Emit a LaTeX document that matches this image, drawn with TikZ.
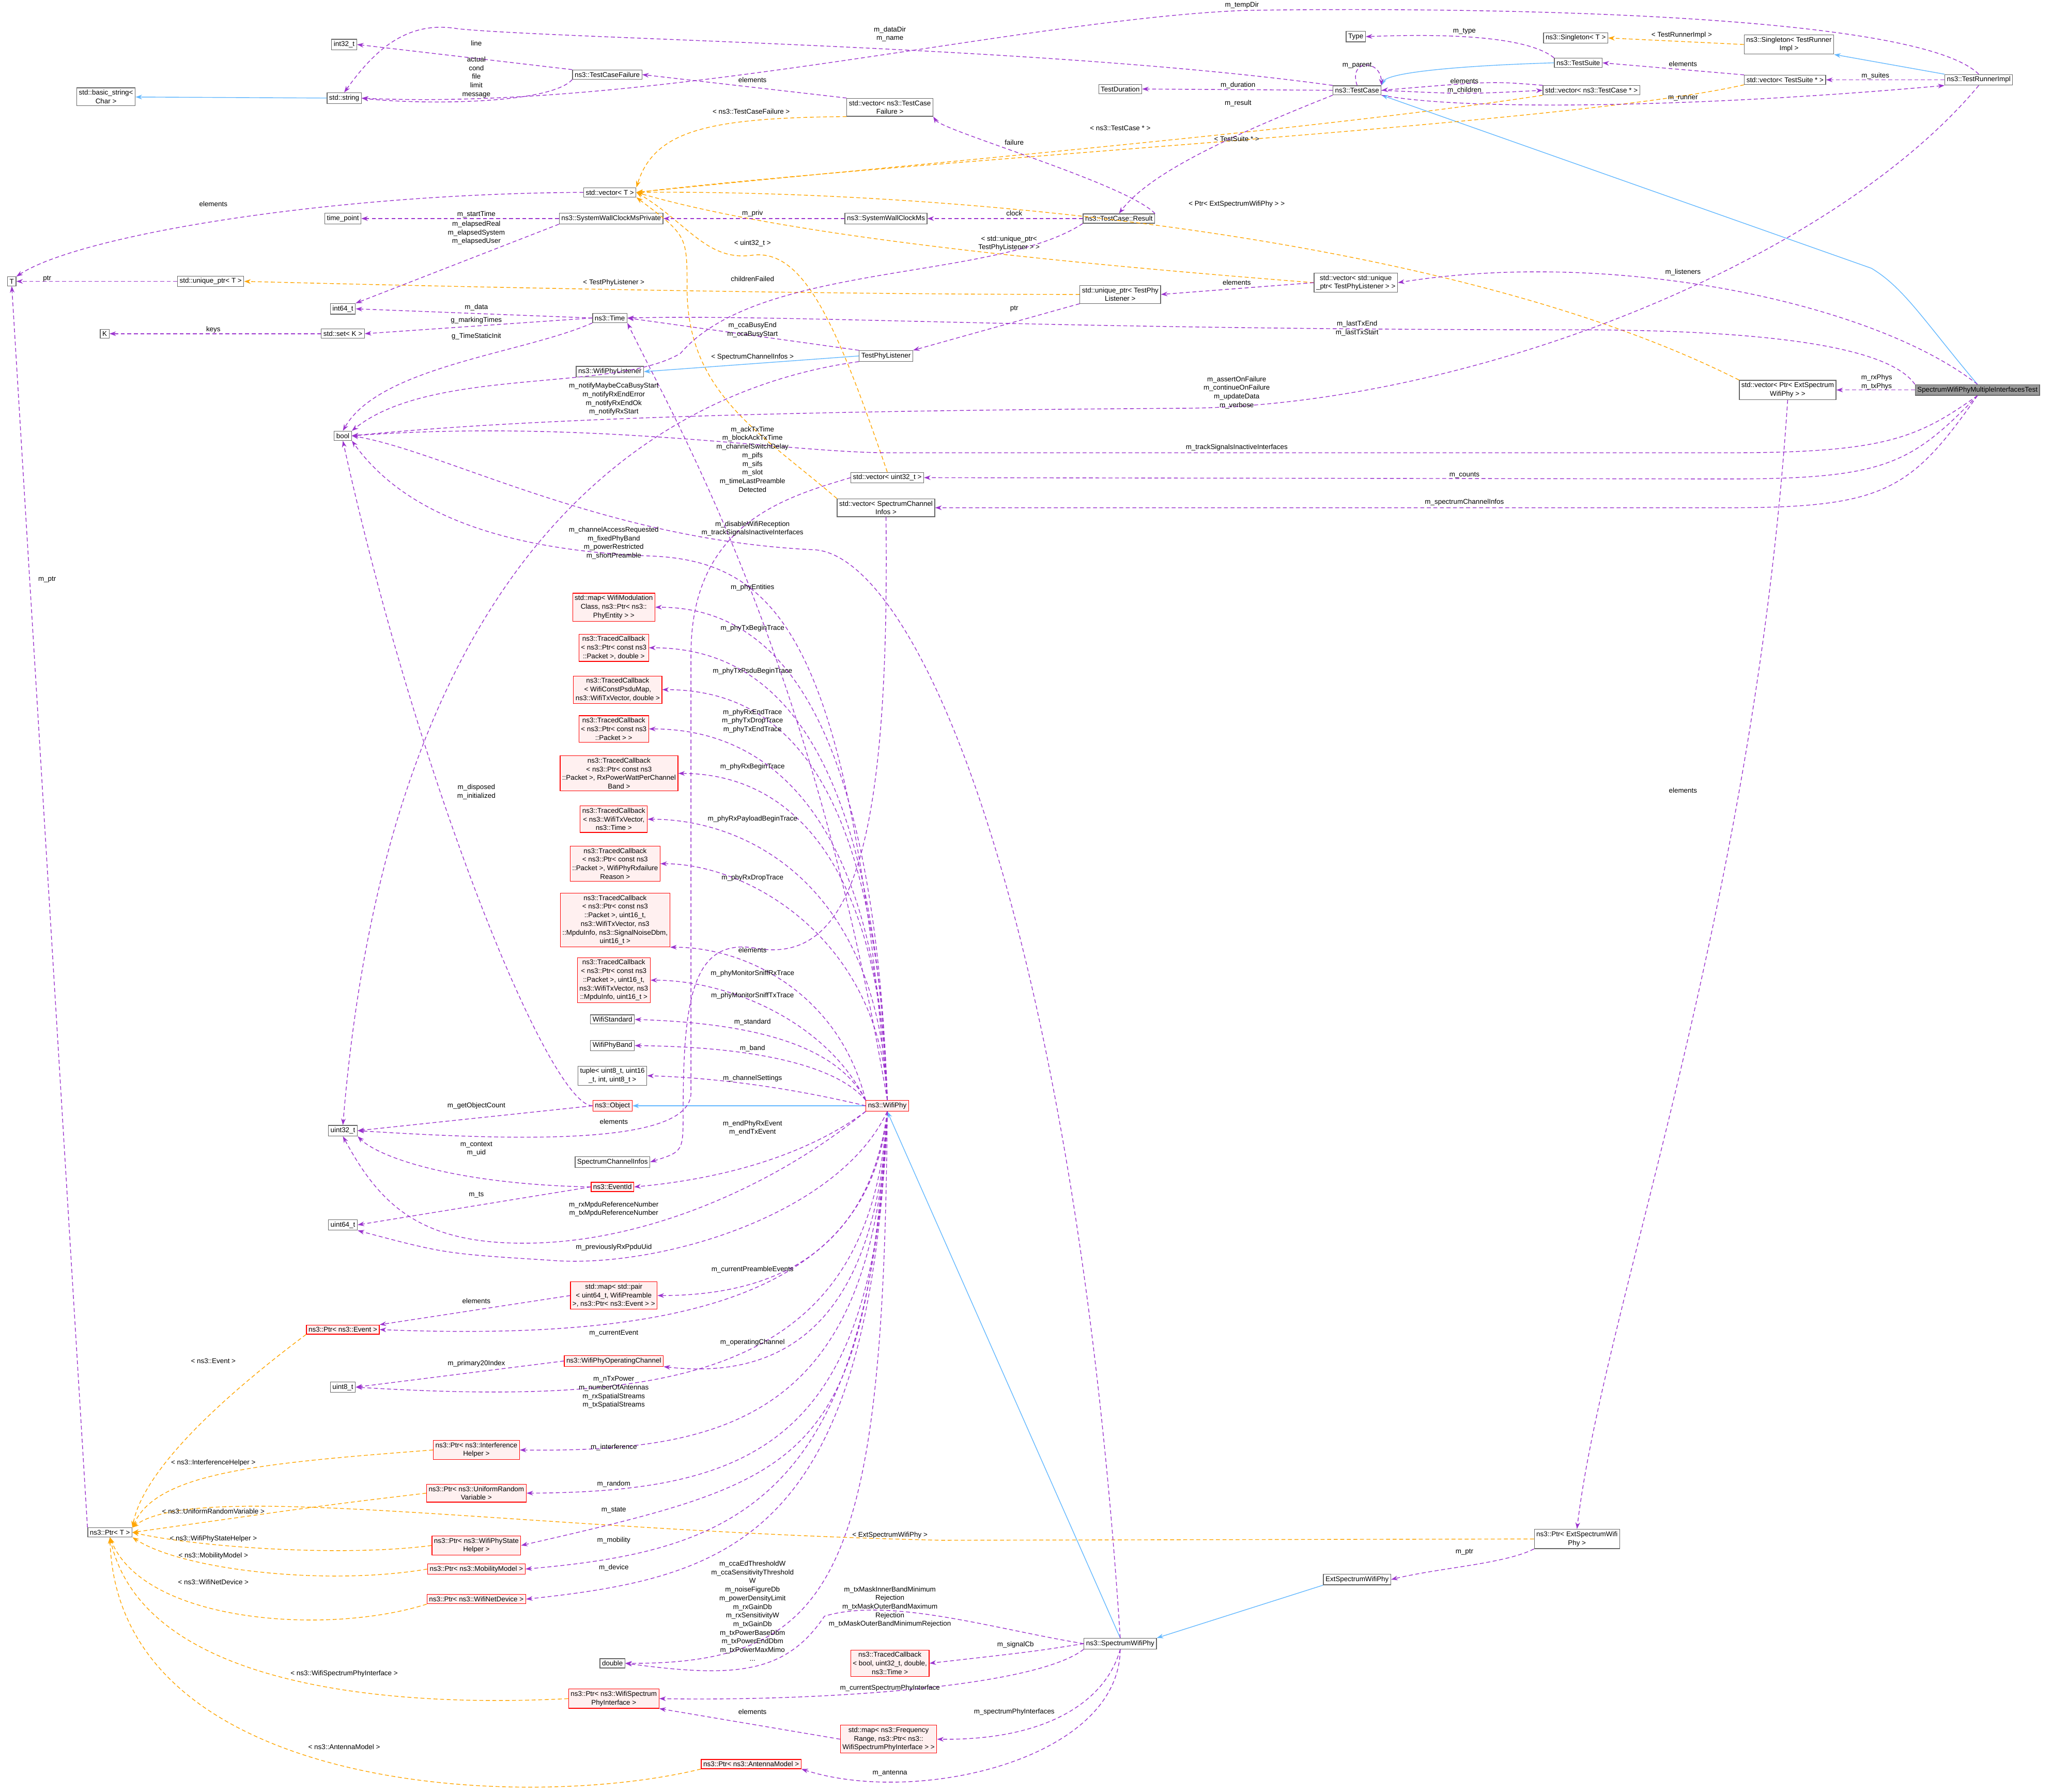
\documentclass[tikz,border=0pt]{standalone}
\usepackage{fontspec}
\setmainfont{Liberation Sans}
\usetikzlibrary{arrows.meta}
\definecolor{cp}{HTML}{9A32CD}
\definecolor{co}{HTML}{FFA500}
\definecolor{cb}{HTML}{63B8FF}
\definecolor{rf}{HTML}{FFF0F0}
\tikzset{
 bx/.style={draw=black!60,fill=white,line width=0.5pt,inner sep=1.6pt,align=center,font=\fontsize{5.3}{6.6}\selectfont},
 rbx/.style={bx,draw=red,fill=rf},
 mbx/.style={bx,fill=black!40},
 lbl/.style={inner sep=0pt,align=center,font=\fontsize{5.3}{6.6}\selectfont},
 p/.style={draw=cp,dashed,dash pattern=on 3pt off 2pt,line width=0.55pt,-{Stealth[length=5pt,width=3.5pt]}},
 o/.style={draw=co,dashed,dash pattern=on 3pt off 2pt,line width=0.55pt,-{Stealth[length=5pt,width=3.5pt]}},
 b/.style={draw=cb,line width=0.55pt,-{Stealth[length=5pt,width=3.5pt]}},
}
\begin{document}
\begin{tikzpicture}[x=1pt,y=-1pt]
\useasboundingbox (0,0) rectangle (1568,1369);
% nodes
\node[bx] (n-int32) at (263,34) {int32\_t};
\node[bx] (n-bstr) at (81,74) {std::basic\_string<\\Char >};
\node[bx] (n-str) at (263,75) {std::string};
\node[bx] (n-tcf) at (464,57) {ns3::TestCaseFailure};
\node[bx] (n-vtcf) at (680,82) {std::vector< ns3::TestCase\\Failure >};
\node[bx] (n-type) at (1036,28) {Type};
\node[bx] (n-sgT) at (1204,29) {ns3::Singleton< T >};
\node[bx] (n-sgR) at (1367,34) {ns3::Singleton< TestRunner\\Impl >};
\node[bx] (n-ts) at (1206,48) {ns3::TestSuite};
\node[bx] (n-td) at (856,68) {TestDuration};
\node[bx] (n-tc) at (1037,69) {ns3::TestCase};
\node[bx] (n-vtc) at (1216,69) {std::vector< ns3::TestCase * >};
\node[bx] (n-vts) at (1364,61) {std::vector< TestSuite * >};
\node[bx] (n-tri) at (1512,61) {ns3::TestRunnerImpl};
\node[bx] (n-vT) at (466,147) {std::vector< T >};
\node[bx] (n-tp) at (262,167) {time\_point};
\node[bx] (n-swp) at (467,167) {ns3::SystemWallClockMsPrivate};
\node[bx] (n-swc) at (677,167) {ns3::SystemWallClockMs};
\node[bx] (n-res) at (855,167) {ns3::TestCase::Result};
\node[bx] (n-T) at (9,215) {T};
\node[bx] (n-upT) at (161,215) {std::unique\_ptr< T >};
\node[bx] (n-vup) at (1036,216) {std::vector< std::unique\\\_ptr< TestPhyListener > >};
\node[bx] (n-uptpl) at (856,225) {std::unique\_ptr< TestPhy\\Listener >};
\node[bx] (n-i64) at (262,236) {int64\_t};
\node[bx] (n-time) at (466,243) {ns3::Time};
\node[bx] (n-K) at (80,255) {K};
\node[bx] (n-set) at (262,255) {std::set< K >};
\node[bx] (n-tpl) at (677,272) {TestPhyListener};
\node[bx] (n-wpl) at (466,284) {ns3::WifiPhyListener};
\node[bx] (n-bool) at (262,333) {bool};
\node[bx] (n-vpe) at (1366,298) {std::vector< Ptr< ExtSpectrum\\WifiPhy > >};
\node[mbx] (n-main) at (1511,298) {SpectrumWifiPhyMultipleInterfacesTest};
\node[bx] (n-vu32) at (678,365) {std::vector< uint32\_t >};
\node[bx] (n-vsci) at (677,388) {std::vector< SpectrumChannel\\Infos >};
\node[rbx] (n-mwm) at (469,464) {std::map< WifiModulation\\Class, ns3::Ptr< ns3::\\PhyEntity > >};
\node[rbx] (n-tc1) at (469,495) {ns3::TracedCallback\\< ns3::Ptr< const ns3\\::Packet >, double >};
\node[rbx] (n-tc2) at (472,527) {ns3::TracedCallback\\< WifiConstPsduMap,\\ ns3::WifiTxVector, double >};
\node[rbx] (n-tc3) at (469,557) {ns3::TracedCallback\\< ns3::Ptr< const ns3\\::Packet > >};
\node[rbx] (n-tc4) at (473,591) {ns3::TracedCallback\\< ns3::Ptr< const ns3\\::Packet >, RxPowerWattPerChannel\\Band >};
\node[rbx] (n-tc5) at (469,626) {ns3::TracedCallback\\< ns3::WifiTxVector,\\ ns3::Time >};
\node[rbx] (n-tc6) at (470,660) {ns3::TracedCallback\\< ns3::Ptr< const ns3\\::Packet >, WifiPhyRxfailure\\Reason >};
\node[rbx] (n-tc7) at (470,703) {ns3::TracedCallback\\< ns3::Ptr< const ns3\\::Packet >, uint16\_t,\\ ns3::WifiTxVector, ns3\\::MpduInfo, ns3::SignalNoiseDbm,\\ uint16\_t >};
\node[rbx] (n-tc8) at (469,749) {ns3::TracedCallback\\< ns3::Ptr< const ns3\\::Packet >, uint16\_t,\\ ns3::WifiTxVector, ns3\\::MpduInfo, uint16\_t >};
\node[bx] (n-wstd) at (468,779) {WifiStandard};
\node[bx] (n-wband) at (468,799) {WifiPhyBand};
\node[bx] (n-tuple) at (468,822) {tuple< uint8\_t, uint16\\\_t, int, uint8\_t >};
\node[rbx] (n-obj) at (468,845) {ns3::Object};
\node[rbx] (n-wphy) at (678,845) {ns3::WifiPhy};
\node[bx] (n-u32) at (262,864) {uint32\_t};
\node[bx] (n-sci) at (468,888) {SpectrumChannelInfos};
\node[rbx] (n-eid) at (468,907) {ns3::EventId};
\node[bx] (n-u64) at (262,936) {uint64\_t};
\node[rbx] (n-mpair) at (469,990) {std::map< std::pair\\< uint64\_t, WifiPreamble\\ >, ns3::Ptr< ns3::Event > >};
\node[rbx] (n-pev) at (262,1016) {ns3::Ptr< ns3::Event >};
\node[rbx] (n-woc) at (469,1040) {ns3::WifiPhyOperatingChannel};
\node[bx] (n-u8) at (262,1060) {uint8\_t};
\node[rbx] (n-pih) at (364,1108) {ns3::Ptr< ns3::Interference\\Helper >};
\node[rbx] (n-purv) at (364,1141) {ns3::Ptr< ns3::UniformRandom\\Variable >};
\node[bx] (n-pT) at (84,1171) {ns3::Ptr< T >};
\node[rbx] (n-psh) at (364,1181) {ns3::Ptr< ns3::WifiPhyState\\Helper >};
\node[rbx] (n-pmm) at (364,1199) {ns3::Ptr< ns3::MobilityModel >};
\node[rbx] (n-pnd) at (364,1222) {ns3::Ptr< ns3::WifiNetDevice >};
\node[bx] (n-pes) at (1205,1176) {ns3::Ptr< ExtSpectrumWifi\\Phy >};
\node[bx] (n-esw) at (1037,1207) {ExtSpectrumWifiPhy};
\node[bx] (n-sw) at (856,1256) {ns3::SpectrumWifiPhy};
\node[bx] (n-dbl) at (468,1271) {double};
\node[rbx] (n-tcb) at (680,1271) {ns3::TracedCallback\\< bool, uint32\_t, double,\\ ns3::Time >};
\node[rbx] (n-psi) at (469,1298) {ns3::Ptr< ns3::WifiSpectrum\\PhyInterface >};
\node[rbx] (n-mfr) at (679,1329) {std::map< ns3::Frequency\\Range, ns3::Ptr< ns3::\\WifiSpectrumPhyInterface > >};
\node[rbx] (n-pam) at (574,1348) {ns3::Ptr< ns3::AntennaModel >};

% edges: blue
\draw[b] (n-str) -- (n-bstr);
\draw[b] (n-tri.north west) -- (n-sgR.south east);
\draw[b] (n-ts.west) .. controls (1120,50) and (1060,55) .. (n-tc.north east);
\draw[b] (n-main.north) .. controls (1470,245) and (1455,220) .. (1430,205) -- (n-tc.south east);
\draw[b] (n-tpl.west) -- (n-wpl.east);
\draw[b] (n-esw.south west) -- (n-sw.north east);
\draw[b] (n-sw.north) -- (n-wphy.south);
\draw[b] (n-wphy) -- (n-obj);

% orange
\draw[o] (n-sgR.west) -- (n-sgT.east);
\draw[o] (n-vtcf.south west) .. controls (540,90) and (500,100) .. (n-vT.north east);
\draw[o] (n-vtc.south west) .. controls (1000,100) and (700,125) .. (n-vT.east);
\draw[o] (n-vts.south west) .. controls (1200,95) and (720,120) .. (n-vT.east);
\draw[o] (n-vpe.north west) .. controls (1100,175) and (700,145) .. (n-vT.east);
\draw[o] (n-vup.west) .. controls (800,200) and (600,180) .. (n-vT.east);
\draw[o] (n-vu32.north) .. controls (640,250) and (615,190) .. (575,195) .. controls (540,200) and (525,170) .. (n-vT.east);
\draw[o] (n-vsci.north west) .. controls (580,330) and (525,300) .. (525,220) .. controls (525,180) .. (n-vT.south east);
\draw[o] (n-uptpl.west) .. controls (600,225) and (300,218) .. (n-upT.east);
\draw[o] (n-pev.south west) .. controls (180,1060) and (110,1120) .. (n-pT.north east);
\draw[o] (n-pih.west) .. controls (200,1118) and (120,1125) .. (n-pT.north east);
\draw[o] (n-purv.west) .. controls (250,1150) .. (n-pT.east);
\draw[o] (n-pes.west) -- (720,1177) .. controls (400,1170) and (150,1130) .. (n-pT.north east);
\draw[o] (n-psh.west) .. controls (260,1190) and (150,1182) .. (n-pT.east);
\draw[o] (n-pmm.west) .. controls (250,1212) and (140,1200) .. (n-pT.south east);
\draw[o] (n-pnd.south west) .. controls (250,1250) and (110,1240) .. (n-pT.south);
\draw[o] (n-psi.west) .. controls (300,1305) and (110,1290) .. (n-pT.south);
\draw[o] (n-pam.south west) .. controls (400,1385) and (90,1370) .. (n-pT.south);

% purple
\draw[p] (n-tcf.north west) -- (n-int32.east);
\draw[p] (n-tcf.south west) .. controls (420,80) and (320,80) .. (n-str.east);
\draw[p] (n-tc.north west) .. controls (800,35) and (430,30) .. (350,22) .. controls (310,15) and (285,40) .. (n-str.north);
\draw[p] (n-tri.north) .. controls (1460,5) and (1060,6) .. (950,8) .. controls (780,15) and (500,85) .. (n-str.east);
\draw[p] (n-vtcf.north west) -- (n-tcf.east);
\draw[p] (n-ts.north west) .. controls (1170,30) and (1120,25) .. (n-type.east);
\draw[p] (n-tc.north) .. controls (1030,45) and (1055,45) .. (n-tc.north east);
\draw[p] (n-tc.west) -- (n-td.east);
\draw[p] (n-tc.east) .. controls (1120,72) .. (n-vtc.west);
\draw[p] (n-vtc.north west) .. controls (1140,62) .. (n-tc.east);
\draw[p] (n-vts.north west) -- (n-ts.east);
\draw[p] (n-tri.west) -- (n-vts.east);
\draw[p] (n-tc.south east) .. controls (1120,85) and (1300,82) .. (n-tri.south west);
\draw[p] (n-tc.south west) .. controls (950,100) and (880,130) .. (n-res.north);
\draw[p] (n-res.north east) .. controls (860,140) and (720,100) .. (n-vtcf.south east);
\draw[p] (n-res.south west) .. controls (760,215) and (580,200) .. (520,270) .. controls (470,300) and (330,280) .. (n-bool.north east);
\draw[p] (n-res.west) -- (n-swc.east);
\draw[p] (n-swc.west) -- (n-swp.east);
\draw[p] (n-swp.west) -- (n-tp.east);
\draw[p] (n-swp.south west) -- (n-i64.north east);
\draw[p] (n-vT.west) .. controls (250,148) and (60,180) .. (n-T.north east);
\draw[p] (n-upT.west) -- (n-T.east);
\draw[p] (n-pT.north west) -- (n-T.south);
\draw[p] (n-time.west) -- (n-i64.east);
\draw[p] (n-time.west) -- (n-set.east);
\draw[p] (n-time.south west) .. controls (400,270) and (290,280) .. (n-bool.north);
\draw[p] (n-set.west) -- (n-K.east);
\draw[p] (n-tpl.north west) -- (n-time.east);
\draw[p] (n-tpl.south west) .. controls (520,295) and (300,400) .. (n-u32.north);
\draw[p] (n-main.north) .. controls (1430,230) and (1230,190) .. (n-vup.east);
\draw[p] (n-main.north west) .. controls (1440,260) and (1320,252) .. (1200,252) .. controls (800,252) and (600,240) .. (n-time.east);
\draw[p] (n-main.west) -- (n-vpe.east);
\draw[p] (n-tri.south) .. controls (1400,200) and (1120,312) .. (900,312) .. controls (600,314) and (400,320) .. (n-bool.east);
\draw[p] (n-main.south) .. controls (1465,335) and (1440,346) .. (1320,346) -- (680,346) .. controls (600,346) and (450,320) .. (n-bool.east);
\draw[p] (n-main.south) .. controls (1460,355) and (1440,366) .. (1320,366) -- (n-vu32.east);
\draw[p] (n-main.south) .. controls (1460,375) and (1440,388) .. (1320,388) -- (n-vsci.east);
\draw[p] (n-vup.west) -- (n-uptpl.east);
\draw[p] (n-uptpl.south west) -- (n-tpl.north east);
\draw[p] (n-vpe.south) .. controls (1340,700) and (1225,1000) .. (n-pes.north);
\draw[p] (n-pes.south west) .. controls (1150,1195) and (1100,1198) .. (n-esw.east);
\draw[p] (n-vu32.west) .. controls (600,380) and (528,400) .. (528,500) -- (528,835) .. controls (528,875) and (400,872) .. (n-u32.east);
\draw[p] (n-vsci.south) .. controls (680,650) and (650,735) .. (580,725) .. controls (530,715) and (522,760) .. (522,850) .. controls (522,880) .. (n-sci.east);
\draw[p] (n-obj.west) .. controls (420,845) and (320,600) .. (n-bool.south);
\draw[p] (n-obj.west) -- (n-u32.east);
\draw[p] (n-eid.west) .. controls (350,905) and (290,885) .. (n-u32.south east);
\draw[p] (n-eid.west) -- (n-u64.east);
\draw[p] (n-mpair.west) -- (n-pev.north east);
\draw[p] (n-woc.west) -- (n-u8.east);
\draw[p] (n-mfr.west) -- (n-psi.south east);
% WifiPhy fan
\draw[p] (n-wphy.north) .. controls (620,500) and (520,330) .. (n-time.south east);
\draw[p] (n-wphy.north) .. controls (650,500) and (600,430) .. (500,425) .. controls (360,420) and (300,380) .. (n-bool.south east);
\draw[p] (n-wphy.north) .. controls +(-10,-300) and +(90,0) .. (n-mwm.east);
\draw[p] (n-wphy.north) .. controls +(-10,-280) and +(90,0) .. (n-tc1.east);
\draw[p] (n-wphy.north) .. controls +(-8,-250) and +(90,0) .. (n-tc2.east);
\draw[p] (n-wphy.north) .. controls +(-8,-220) and +(90,0) .. (n-tc3.east);
\draw[p] (n-wphy.north) .. controls +(-6,-190) and +(80,0) .. (n-tc4.east);
\draw[p] (n-wphy.north) .. controls +(-6,-160) and +(80,0) .. (n-tc5.east);
\draw[p] (n-wphy.north) .. controls +(-5,-120) and +(70,0) .. (n-tc6.east);
\draw[p] (n-wphy.north west) .. controls +(-20,-80) and +(60,0) .. (n-tc7.south east);
\draw[p] (n-wphy.north west) .. controls +(-30,-60) and +(60,0) .. (n-tc8.east);
\draw[p] (n-wphy.north west) .. controls (640,800) and (580,782) .. (n-wstd.east);
\draw[p] (n-wphy.north west) .. controls (640,815) and (580,800) .. (n-wband.east);
\draw[p] (n-wphy.west) .. controls (620,835) and (560,824) .. (n-tuple.east);
\draw[p] (n-wphy.south west) .. controls (620,880) and (560,900) .. (n-eid.east);
\draw[p] (n-wphy.south west) .. controls (600,900) and (500,950) .. (400,950) .. controls (320,950) and (290,920) .. (n-u32.south);
\draw[p] (n-wphy.south) .. controls (640,930) and (500,970) .. (420,963) .. controls (340,958) .. (n-u64.south east);
\draw[p] (n-wphy.south) .. controls (665,950) and (600,990) .. (n-mpair.east);
\draw[p] (n-wphy.south) .. controls (665,990) and (520,1025) .. (n-pev.east);
\draw[p] (n-wphy.south) .. controls (670,1010) and (600,1055) .. (n-woc.south east);
\draw[p] (n-wphy.south) .. controls (665,1050) and (520,1075) .. (n-u8.east);
\draw[p] (n-wphy.south) .. controls (668,1080) and (560,1110) .. (n-pih.east);
\draw[p] (n-wphy.south) .. controls (670,1100) and (580,1140) .. (n-purv.east);
\draw[p] (n-wphy.south) .. controls (660,1120) and (620,1130) .. (n-psh.east);
\draw[p] (n-wphy.south) .. controls (665,1150) and (560,1185) .. (n-pmm.east);
\draw[p] (n-wphy.south) .. controls (665,1175) and (560,1205) .. (n-pnd.east);
\draw[p] (n-wphy.south) .. controls (675,1200) and (640,1272) .. (n-dbl.east);
\draw[p] (n-sw.north) .. controls (820,700) and (700,420) .. (620,420) .. controls (460,412) and (340,345) .. (n-bool.east);
\draw[p] (n-sw.west) .. controls (760,1245) and (680,1220) .. (630,1235) .. controls (600,1280) and (560,1282) .. (n-dbl.east);
\draw[p] (n-sw.west) .. controls (790,1262) .. (n-tcb.east);
\draw[p] (n-sw.south west) .. controls (790,1290) and (620,1300) .. (n-psi.east);
\draw[p] (n-sw.south) .. controls (845,1300) and (800,1330) .. (n-mfr.east);
\draw[p] (n-sw.south) .. controls (855,1345) and (700,1380) .. (n-pam.south east);

% labels
\node[lbl] (l1) at (364,33) {line};
\node[lbl] (l2) at (364,59) {actual\\cond\\file\\limit\\message};
\node[lbl] (l3) at (680,26) {m\_dataDir\\m\_name};
\node[lbl] (l4) at (949,4) {m\_tempDir};
\node[lbl] (l5) at (1119,24) {m\_type};
\node[lbl] (l6) at (1285,27) {< TestRunnerImpl >};
\node[lbl] (l7) at (1037,50) {m\_parent};
\node[lbl] (l8) at (1286,49) {elements};
\node[lbl] (l9) at (1119,62) {elements};
\node[lbl] (l10) at (1119,69) {m\_children};
\node[lbl] (l11) at (1433,58) {m\_suites};
\node[lbl] (l12) at (946,65) {m\_duration};
\node[lbl] (l13) at (1286,75) {m\_runner};
\node[lbl] (l14) at (946,79) {m\_result};
\node[lbl] (l15) at (856,98) {< ns3::TestCase * >};
\node[lbl] (l16) at (945,106) {< TestSuite * >};
\node[lbl] (l17) at (945,156) {< Ptr< ExtSpectrumWifiPhy > >};
\node[lbl] (l18) at (945,216) {elements};
\node[lbl] (l19) at (1286,208) {m\_listeners};
\node[lbl] (l20) at (1037,251) {m\_lastTxEnd\\m\_lastTxStart};
\node[lbl] (l21) at (945,300) {m\_assertOnFailure\\m\_continueOnFailure\\m\_updateData\\m\_verbose};
\node[lbl] (l22) at (1434,292) {m\_rxPhys\\m\_txPhys};
\node[lbl] (l23) at (945,342) {m\_trackSignalsInactiveInterfaces};
\node[lbl] (l24) at (1119,363) {m\_counts};
\node[lbl] (l25) at (1119,384) {m\_spectrumChannelInfos};
\node[lbl] (l26) at (575,61) {elements};
\node[lbl] (l27) at (574,85) {< ns3::TestCaseFailure >};
\node[lbl] (l28) at (775,109) {failure};
\node[lbl] (l29) at (163,156) {elements};
\node[lbl] (l30) at (364,164) {m\_startTime};
\node[lbl] (l31) at (575,163) {m\_priv};
\node[lbl] (l32) at (775,163) {clock};
\node[lbl] (l33) at (364,178) {m\_elapsedReal\\m\_elapsedSystem\\m\_elapsedUser};
\node[lbl] (l34) at (575,186) {< uint32\_t >};
\node[lbl] (l35) at (771,186) {< std::unique\_ptr<\\TestPhyListener > >};
\node[lbl] (l36) at (36,213) {ptr};
\node[lbl] (l37) at (469,216) {< TestPhyListener >};
\node[lbl] (l38) at (575,213) {childrenFailed};
\node[lbl] (l39) at (775,236) {ptr};
\node[lbl] (l40) at (364,235) {m\_data};
\node[lbl] (l41) at (364,245) {g\_markingTimes};
\node[lbl] (l42) at (163,252) {keys};
\node[lbl] (l43) at (364,257) {g\_TimeStaticInit};
\node[lbl] (l44) at (575,252) {m\_ccaBusyEnd\\m\_ccaBusyStart};
\node[lbl] (l45) at (575,273) {< SpectrumChannelInfos >};
\node[lbl] (l46) at (469,305) {m\_notifyMaybeCcaBusyStart\\m\_notifyRxEndError\\m\_notifyRxEndOk\\m\_notifyRxStart};
\node[lbl] (l47) at (575,351) {m\_ackTxTime\\m\_blockAckTxTime\\m\_channelSwitchDelay\\m\_pifs\\m\_sifs\\m\_slot\\m\_timeLastPreamble\\Detected};
\node[lbl] (l48) at (575,404) {m\_disableWifiReception\\m\_trackSignalsInactiveInterfaces};
\node[lbl] (l49) at (469,415) {m\_channelAccessRequested\\m\_fixedPhyBand\\m\_powerRestricted\\m\_shortPreamble};
\node[lbl] (l50) at (36,443) {m\_ptr};
\node[lbl] (l51) at (575,449) {m\_phyEntities};
\node[lbl] (l52) at (575,480) {m\_phyTxBeginTrace};
\node[lbl] (l53) at (575,513) {m\_phyTxPsduBeginTrace};
\node[lbl] (l54) at (575,551) {m\_phyRxEndTrace\\m\_phyTxDropTrace\\m\_phyTxEndTrace};
\node[lbl] (l55) at (575,586) {m\_phyRxBeginTrace};
\node[lbl] (l56) at (364,605) {m\_disposed\\m\_initialized};
\node[lbl] (l57) at (575,626) {m\_phyRxPayloadBeginTrace};
\node[lbl] (l58) at (575,671) {m\_phyRxDropTrace};
\node[lbl] (l59) at (575,726) {elements};
\node[lbl] (l60) at (575,744) {m\_phyMonitorSniffRxTrace};
\node[lbl] (l61) at (575,761) {m\_phyMonitorSniffTxTrace};
\node[lbl] (l62) at (575,781) {m\_standard};
\node[lbl] (l63) at (575,801) {m\_band};
\node[lbl] (l64) at (575,824) {m\_channelSettings};
\node[lbl] (l65) at (364,845) {m\_getObjectCount};
\node[lbl] (l66) at (469,857) {elements};
\node[lbl] (l67) at (575,862) {m\_endPhyRxEvent\\m\_endTxEvent};
\node[lbl] (l68) at (364,878) {m\_context\\m\_uid};
\node[lbl] (l69) at (364,913) {m\_ts};
\node[lbl] (l70) at (469,924) {m\_rxMpduReferenceNumber\\m\_txMpduReferenceNumber};
\node[lbl] (l71) at (469,953) {m\_previouslyRxPpduUid};
\node[lbl] (l72) at (575,970) {m\_currentPreambleEvents};
\node[lbl] (l73) at (364,994) {elements};
\node[lbl] (l74) at (469,1019) {m\_currentEvent};
\node[lbl] (l75) at (575,1026) {m\_operatingChannel};
\node[lbl] (l76) at (163,1040) {< ns3::Event >};
\node[lbl] (l77) at (364,1042) {m\_primary20Index};
\node[lbl] (l78) at (469,1064) {m\_nTxPower\\m\_numberOfAntennas\\m\_rxSpatialStreams\\m\_txSpatialStreams};
\node[lbl] (l79) at (469,1106) {m\_interference};
\node[lbl] (l80) at (163,1118) {< ns3::InterferenceHelper >};
\node[lbl] (l81) at (469,1134) {m\_random};
\node[lbl] (l82) at (469,1154) {m\_state};
\node[lbl] (l83) at (163,1155) {< ns3::UniformRandomVariable >};
\node[lbl] (l84) at (680,1173) {< ExtSpectrumWifiPhy >};
\node[lbl] (l85) at (163,1176) {< ns3::WifiPhyStateHelper >};
\node[lbl] (l86) at (469,1177) {m\_mobility};
\node[lbl] (l87) at (163,1189) {< ns3::MobilityModel >};
\node[lbl] (l88) at (469,1198) {m\_device};
\node[lbl] (l89) at (163,1209) {< ns3::WifiNetDevice >};
\node[lbl] (l90) at (575,1231) {m\_ccaEdThresholdW\\m\_ccaSensitivityThreshold\\W\\m\_noiseFigureDb\\m\_powerDensityLimit\\m\_rxGainDb\\m\_rxSensitivityW\\m\_txGainDb\\m\_txPowerBaseDbm\\m\_txPowerEndDbm\\m\_txPowerMaxMimo\\...};
\node[lbl] (l91) at (680,1228) {m\_txMaskInnerBandMinimum\\Rejection\\m\_txMaskOuterBandMaximum\\Rejection\\m\_txMaskOuterBandMinimumRejection};
\node[lbl] (l92) at (776,1257) {m\_signalCb};
\node[lbl] (l93) at (263,1279) {< ns3::WifiSpectrumPhyInterface >};
\node[lbl] (l94) at (680,1290) {m\_currentSpectrumPhyInterface};
\node[lbl] (l95) at (575,1308) {elements};
\node[lbl] (l96) at (775,1308) {m\_spectrumPhyInterfaces};
\node[lbl] (l97) at (263,1335) {< ns3::AntennaModel >};
\node[lbl] (l98) at (680,1355) {m\_antenna};
\node[lbl] (l99) at (1119,1186) {m\_ptr};
\node[lbl] (l100) at (1286,604) {elements};
\end{tikzpicture}
\end{document}
